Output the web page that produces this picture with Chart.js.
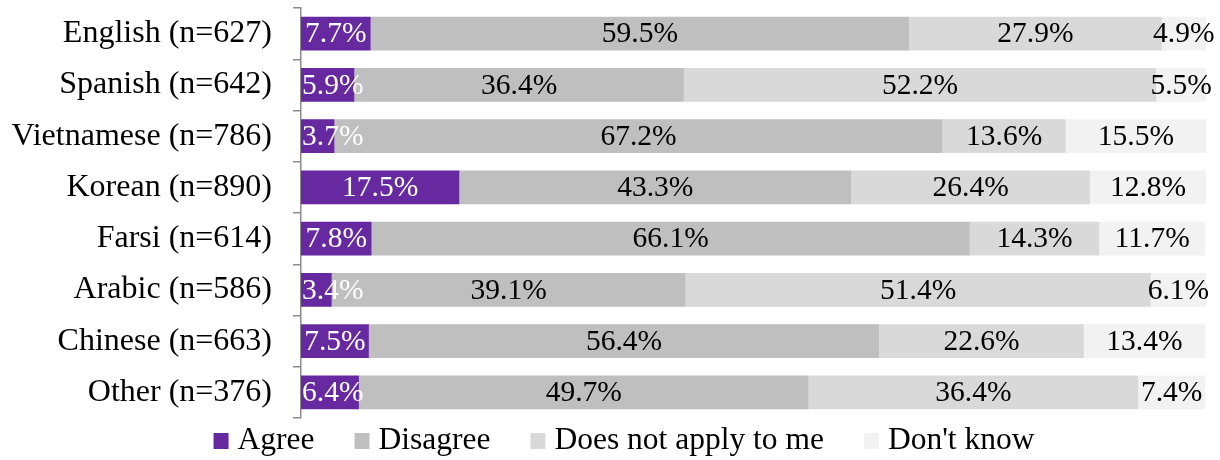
<!DOCTYPE html>
<html><head><meta charset="utf-8">
<script src="https://cdn.jsdelivr.net/npm/chart.js@4"></script>
<style>html,body{margin:0;padding:0;background:#fff}#wrap{width:1220px;height:460px}</style>
</head><body><div id="wrap"><canvas id="c" width="1220" height="460"></canvas></div>
<script>
const categories = ["English (n=627)","Spanish (n=642)","Vietnamese (n=786)","Korean (n=890)","Farsi (n=614)","Arabic (n=586)","Chinese (n=663)","Other (n=376)"];
const seriesNames = ["Agree","Disagree","Does not apply to me","Don't know"];
const agree = [7.7,5.9,3.7,17.5,7.8,3.4,7.5,6.4];
const disagree = [59.5,36.4,67.2,43.3,66.1,39.1,56.4,49.7];
const notApply = [27.9,52.2,13.6,26.4,14.3,51.4,22.6,36.4];
const dontKnow = [4.9,5.5,15.5,12.8,11.7,6.1,13.4,7.4];
const colors = ["#6629A0","#BFBFBF","#D9D9D9","#F2F2F2"];
const labelColors = ["#FFFFFF","#000000","#000000","#000000"];

const FONT = "'Liberation Serif','Times New Roman',serif";

const labelPlugin = {
  id:'segLabels',
  afterDatasetsDraw(chart){
    const ctx = chart.ctx;
    const area = chart.chartArea;
    ctx.save();
    ctx.font = "29.5px " + FONT;
    ctx.textAlign = 'left';
    ctx.textBaseline = 'middle';
    chart.data.datasets.forEach((ds,i)=>{
      const meta = chart.getDatasetMeta(i);
      meta.data.forEach((bar,j)=>{
        const p = bar.getProps(['x','y','base'],true);
        const txt = ds.data[j].toFixed(1)+'%';
        const w = ctx.measureText(txt).width;
        const cx = (p.x + p.base)/2;
        let left = cx - w/2;
        if (left < area.left + 1) left = area.left + 1;
        ctx.fillStyle = labelColors[i];
        ctx.fillText(txt, left, p.y+1);
      });
    });
    ctx.restore();
  }
};

const legendPlugin = {
  id:'bottomLegend',
  afterDraw(chart){
    const ctx = chart.ctx;
    ctx.save();
    ctx.font = "31.5px " + FONT;
    ctx.textBaseline = 'middle';
    ctx.textAlign = 'left';
    const items = chart.data.datasets.map(d=>({text:d.label,color:d.backgroundColor,w:ctx.measureText(d.label).width}));
    const box = 15, gapText = 9, gapItem = 40;
    let total = 0;
    items.forEach((it,i)=>{ total += box + gapText + it.w + (i<items.length-1?gapItem:0); });
    let x = 624 - total/2;
    const yc = 441;
    items.forEach(it=>{
      ctx.fillStyle = it.color;
      ctx.fillRect(x, yc-8, box, box+1);
      ctx.fillStyle = '#000';
      ctx.fillText(it.text, x+box+gapText, yc);
      x += box + gapText + it.w + gapItem;
    });
    ctx.restore();
  }
};

const seriesData = [agree,disagree,notApply,dontKnow];
new Chart(document.getElementById('c'),{
  type:'bar',
  data:{
    labels:categories,
    datasets: seriesNames.map((n,i)=>({label:n,data:seriesData[i],backgroundColor:colors[i],borderWidth:0,barPercentage:0.663,categoryPercentage:1}))
  },
  options:{
    indexAxis:'y',
    responsive:false,
    animation:false,
    devicePixelRatio:1,
    layout:{padding:{left:0,right:14,top:8,bottom:42}},
    scales:{
      x:{stacked:true,min:0,max:100,display:false},
      y:{stacked:true,
        afterFit(scale){ scale.width = 301; scale.paddingTop = 0; scale.paddingBottom = 0; },
        border:{display:true,color:'#8C8C8C',width:1.5},
        grid:{display:true,drawOnChartArea:false,drawTicks:true,tickLength:8,color:'#8C8C8C',lineWidth:1.5,offset:true},
        ticks:{color:'#000',font:{family:FONT,size:32},padding:21}
      }
    },
    plugins:{
      legend:{display:false},
      tooltip:{enabled:false}
    }
  },
  plugins:[labelPlugin,legendPlugin]
});
</script></body></html>
